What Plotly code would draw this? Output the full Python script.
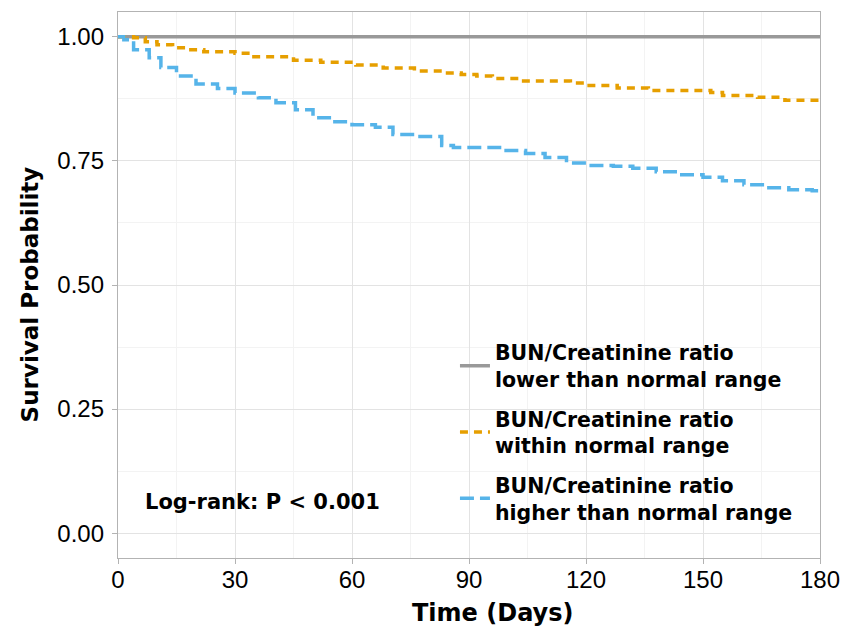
import plotly.graph_objects as go

# ---- data ----
low_days = [0, 180]
low_surv = [1.0, 1.0]

within_days = [0, 4, 7, 10, 14, 18, 22, 30, 34, 45, 52, 61, 68, 76, 84, 88, 92, 96, 104,
               116, 120, 128, 136, 152, 155, 164, 171, 180]
within_surv = [1.0, 0.998, 0.99, 0.984, 0.978, 0.974, 0.970, 0.967, 0.960, 0.953, 0.949,
               0.943, 0.937, 0.931, 0.927, 0.924, 0.921, 0.916, 0.911, 0.907, 0.902, 0.897,
               0.892, 0.888, 0.882, 0.878, 0.872, 0.870]

high_days = [0, 1.5, 4, 8, 11, 15, 20, 25.5, 30, 36, 40.5, 45.5, 50, 55, 60, 66, 70.5, 76,
             83, 86, 98.5, 104.5, 109.5, 115, 120, 127, 132, 138, 143.5, 150, 155, 160.5,
             166, 172, 178, 180]
high_surv = [1.0, 0.994, 0.974, 0.958, 0.938, 0.921, 0.905, 0.896, 0.887, 0.877, 0.867,
             0.853, 0.837, 0.829, 0.823, 0.818, 0.803, 0.799, 0.781, 0.777, 0.771, 0.765,
             0.757, 0.746, 0.741, 0.739, 0.735, 0.728, 0.722, 0.717, 0.710, 0.702, 0.696,
             0.692, 0.690, 0.690]

names = ["BUN/Creatinine ratio<br>lower than normal range",
         "BUN/Creatinine ratio<br>within normal range",
         "BUN/Creatinine ratio<br>higher than normal range"]

x_ticks = [0, 30, 60, 90, 120, 150, 180]
x_minor = [15, 45, 75, 105, 135, 165]
y_ticks = [0, 0.25, 0.5, 0.75, 1.0]
y_minor = [0.125, 0.375, 0.625, 0.875]
y_ticklabels = ["0.00", "0.25", "0.50", "0.75", "1.00"]

def bold_name(s):
    return "<b>" + s.replace("<br>", "</b><br><b>") + "</b>"

fig = go.Figure()
fig.add_trace(go.Scatter(x=low_days, y=low_surv, mode="lines", line_shape="hv",
                         name=bold_name(names[0]), legendgroup="a",
                         line=dict(color="#999999", width=3.5)))
fig.add_trace(go.Scatter(x=within_days, y=within_surv, mode="lines", line_shape="hv",
                         name=bold_name(names[1]), legendgroup="b",
                         line=dict(color="#E69F00", width=3.5, dash="8px,6px")))
fig.add_trace(go.Scatter(x=high_days, y=high_surv, mode="lines", line_shape="hv",
                         name=bold_name(names[2]), legendgroup="c",
                         line=dict(color="#56B4E9", width=3.5, dash="14px,6px")))

fig.add_annotation(x=0.036, y=0.103, xref="paper", yref="paper", xanchor="left", yanchor="middle",
                   text="<b>Log-rank: P < 0.001</b>", showarrow=False,
                   font=dict(family="DejaVu Sans", size=21, color="black"))

# axis titles (placed as annotations to match the reference offsets)
fig.add_annotation(x=0.533, y=-0.1, xref="paper", yref="paper", xanchor="center", yanchor="middle",
                   text="<b>Time (Days)</b>", showarrow=False,
                   font=dict(family="DejaVu Sans", size=24, color="black"))
fig.add_annotation(x=-0.126, y=0.482, xref="paper", yref="paper", xanchor="center", yanchor="middle",
                   text="<b>Survival Probability</b>", showarrow=False, textangle=-90,
                   font=dict(family="DejaVu Sans", size=23, color="black"))

tickfont = dict(family="Liberation Sans, Arial", size=24, color="black")

fig.update_xaxes(range=[0, 180], tickvals=x_ticks,
                 showline=True, mirror=True, linecolor="#B3B3B3", linewidth=1.3,
                 ticks="outside", ticklen=5, tickcolor="#B3B3B3", ticklabelstandoff=-5,
                 gridcolor="#E3E3E3", gridwidth=1, zeroline=False, tickfont=tickfont,
                 minor=dict(tickvals=x_minor, showgrid=True, gridcolor="#F3F3F3", gridwidth=1, ticks=""))
fig.update_yaxes(range=[-0.05, 1.05], tickvals=y_ticks, ticktext=y_ticklabels,
                 showline=True, mirror=True, linecolor="#B3B3B3", linewidth=1.3,
                 ticks="outside", ticklen=5, tickcolor="#B3B3B3", ticklabelstandoff=3,
                 gridcolor="#E3E3E3", gridwidth=1, zeroline=False, tickfont=tickfont,
                 minor=dict(tickvals=y_minor, showgrid=True, gridcolor="#F3F3F3", gridwidth=1, ticks=""))

fig.update_layout(
    width=844, height=632,
    margin=dict(l=118, r=24, t=12, b=74, autoexpand=False),
    plot_bgcolor="white", paper_bgcolor="white",
    legend=dict(x=0.48, y=0.413, xanchor="left", yanchor="top",
                bgcolor="rgba(255,255,255,0)",
                font=dict(family="DejaVu Sans", size=20.5, color="black"),
                itemwidth=30, tracegroupgap=10),
)

fig.write_html("out.html", config={"displayModeBar": False},
               post_script="document.body.style.margin='0';document.body.style.overflow='hidden';")
